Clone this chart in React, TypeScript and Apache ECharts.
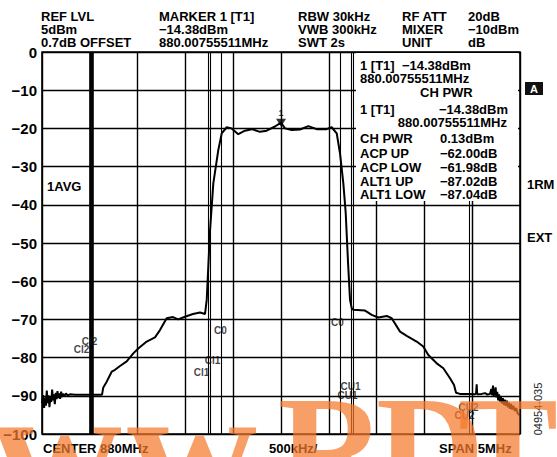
import React, { useEffect, useRef } from "react";
import * as echarts from "echarts";

// Trace: frequency (MHz) and level (dB)
const freqMHz = [877.500, 877.512, 877.522, 877.532, 877.541, 877.550, 877.560, 877.569, 877.578, 877.588, 877.597, 877.606, 877.616, 877.625, 877.634, 877.644, 877.653, 877.662, 877.672, 877.681, 877.690, 877.700, 877.710, 877.720, 877.735, 877.750, 877.770, 877.793, 877.845, 877.950, 878.054, 878.128, 878.141, 878.177, 878.229, 878.264, 878.316, 878.386, 878.455, 878.507, 878.595, 878.682, 878.734, 878.804, 878.870, 878.923, 878.996, 879.079, 879.153, 879.205, 879.223, 879.257, 879.292, 879.344, 879.380, 879.432, 879.484, 879.553, 879.623, 879.694, 879.780, 879.850, 879.937, 880.000, 880.042, 880.112, 880.199, 880.286, 880.373, 880.478, 880.530, 880.583, 880.617, 880.652, 880.677, 880.701, 880.722, 880.740, 880.756, 880.879, 880.949, 881.018, 881.106, 881.158, 881.245, 881.315, 881.419, 881.488, 881.541, 881.629, 881.698, 881.768, 881.810, 881.831, 881.872, 881.977, 882.029, 882.040, 882.047, 882.052, 882.100, 882.134, 882.160, 882.186, 882.200, 882.207, 882.218, 882.224, 882.235, 882.245, 882.252, 882.262, 882.272, 882.281, 882.291, 882.300, 882.310, 882.320, 882.331, 882.342, 882.352, 882.363, 882.373, 882.384, 882.395, 882.406, 882.417, 882.430, 882.445, 882.460, 882.475, 882.493];
const levelDb = [-92.0, -89.8, -93.2, -90.5, -92.6, -88.6, -91.9, -89.9, -93.0, -90.2, -91.6, -88.4, -91.2, -89.6, -92.2, -89.2, -90.9, -88.8, -90.6, -89.4, -90.8, -88.9, -90.3, -89.5, -90.1, -89.4, -89.9, -89.6, -89.7, -89.7, -89.7, -89.7, -87.8, -86.3, -83.7, -83.2, -82.2, -81, -78.9, -77.6, -75.8, -74.7, -72.8, -69.7, -69.4, -70, -69.3, -68.6, -68.2, -68.6, -64.9, -47, -34.4, -25.7, -21.3, -19.7, -20, -21.5, -20.6, -20.2, -20.9, -20.6, -19.5, -18.5, -20, -20.4, -20.3, -19.4, -20.2, -20.2, -19.7, -21.3, -26.5, -34.4, -42.2, -55, -64.9, -67.1, -67.5, -67.7, -68.8, -69.5, -69.1, -69.7, -73.2, -74.3, -75.8, -77.1, -79.3, -81.5, -82.8, -85.4, -87.2, -89.2, -89.5, -89.5, -89.6, -89.4, -87.0, -89.6, -89.5, -89.3, -89.7, -89.5, -88.2, -89.8, -87.3, -90.1, -89.2, -87.8, -90.4, -89.0, -91.2, -89.6, -91.5, -90.2, -92.0, -90.6, -92.4, -91.0, -92.6, -91.3, -93.0, -91.8, -93.4, -92.1, -93.6, -92.6, -94.0, -93.2, -94.6, -95.0];

// Channel limit lines (MHz)
const channelEdges = [878.005, 878.035, 879.235, 879.265, 879.385, 880.615, 880.735, 880.765, 881.965, 881.995];
const channelIsAlt = [true, true, false, false, false, false, false, false, false, false];
// Channel line labels and their anchor (MHz, dB)
const channelLabels = ["Cl2", "Cl2", "Cl1", "Cl1", "C0", "C0", "CU1", "CU1", "CU2", "CU2"];
const labelFreq = [878.002, 877.918, 879.289, 879.174, 879.372, 880.596, 880.732, 880.701, 881.967, 881.925];
const labelDb = [-75.9, -78.0, -80.9, -84.0, -73.0, -70.9, -87.7, -90.1, -93.2, -95.3];

// Marker 1
const markerFreq = [880.0];
const markerDb = [-18.5];

// Header columns
const headerCol1 = ["REF LVL", "5dBm", "0.7dB OFFSET"];
const headerCol2 = ["MARKER 1 [T1]", "\u221214.38dBm", "880.00755511MHz"];
const headerCol3 = ["RBW 30kHz", "VWB 300kHz", "SWT 2s"];
const headerCol4 = ["RF ATT", "MIXER", "UNIT"];
const headerCol5 = ["20dB", "\u221210dBm", "dB"];

// Result table
const resultNames = ["CH PWR", "ACP UP", "ACP LOW", "ALT1 UP", "ALT1 LOW"];
const resultValues = ["0.13dBm", "\u221262.00dB", "\u221261.98dB", "\u221287.02dB", "\u221287.04dB"];

const bottomLabels = ["CENTER 880MHz", "500kHz/", "SPAN 5MHz"];

// Watermark letters
const watermarkChars = ["w", "w", "R", "D", "T"];

export default function App() {
  const ref = useRef<HTMLDivElement>(null);
  useEffect(() => {
    if (!ref.current) return;
    const chart = echarts.init(ref.current, undefined, { renderer: "svg" });
    const F = "'Liberation Sans', Arial, sans-serif";
    const bold13 = `bold 13px ${F}`;
    const txt = (text: string, x: number, y: number, extra: any = {}) => ({
      type: "text",
      x,
      y,
      z: 200,
      style: { text, font: bold13, fill: "#000", verticalAlign: "middle", align: "left", ...extra },
    });
    const headerX = [41, 159, 298, 402, 468];
    const headerY = [16, 29, 42];
    const headers = [headerCol1, headerCol2, headerCol3, headerCol4, headerCol5];
    const graphics: any[] = [];
    headers.forEach((col, ci) => col.forEach((t, ri) => graphics.push(txt(t, headerX[ci], headerY[ri]))));
    // result box
    graphics.push({ type: "rect", z: 150, shape: { x: 356, y: 53, width: 162, height: 148 }, style: { fill: "#fff" } });
    graphics.push(txt("1 [T1]  \u221214.38dBm", 360, 65.5));
    graphics.push(txt("880.00755511MHz", 360, 78.5));
    graphics.push(txt("CH PWR", 420, 92.5));
    graphics.push(txt("1 [T1]", 360, 109.5));
    graphics.push(txt("\u221214.38dBm", 508, 109.5, { align: "right" }));
    graphics.push(txt("880.00755511MHz", 507, 122.5, { align: "right" }));
    const rowY = [138.3, 153, 167.2, 181, 194.5];
    resultNames.forEach((n, i) => {
      graphics.push(txt(n, 360, rowY[i]));
      graphics.push(txt(resultValues[i], 440, rowY[i]));
    });
    // right side
    graphics.push({ type: "rect", z: 200, shape: { x: 525, y: 82, width: 18, height: 13 }, style: { fill: "#111" } });
    graphics.push(txt("A", 534, 88.5, { fill: "#fff", align: "center", font: `bold 11px ${F}` }));
    graphics.push(txt("1RM", 527, 184));
    graphics.push(txt("EXT", 527, 237));
    graphics.push(txt("1AVG", 47, 186.5));
    // bottom
    graphics.push(txt(bottomLabels[0], 43, 448.5));
    graphics.push(txt(bottomLabels[1], 269, 448.5));
    graphics.push(txt(bottomLabels[2], 439, 448.5));
    graphics.push({
      type: "text",
      x: 538,
      y: 409,
      rotation: Math.PI / 2,
      z: 200,
      style: { text: "04954-035", font: `11px ${F}`, fill: "#222", align: "center", verticalAlign: "middle" },
    });
    // watermark (per letter)
    const wmX = [-8, 127, 278, 376, 458];
    const wmY = [539, 539, 524, 524, 524];
    const wmSize = [180, 180, 150, 150, 150];
    watermarkChars.forEach((c, i) => {
      graphics.push({
        type: "text",
        x: wmX[i],
        y: wmY[i],
        z: 300,
        silent: true,
        style: { text: c, font: `bold ${wmSize[i]}px 'Liberation Serif', serif`, fill: "rgba(245,120,45,0.72)", verticalAlign: "bottom", align: "left" },
      });
    });

    chart.setOption({
      animation: false,
      backgroundColor: "#fff",
      grid: { left: 42, right: 37, top: 52, bottom: 23, show: true, borderColor: "#000", borderWidth: 1.6, backgroundColor: "transparent" },
      xAxis: {
        type: "value",
        min: 877.5,
        max: 882.5,
        interval: 0.5,
        axisLine: { show: false },
        axisTick: { show: false },
        axisLabel: { show: false },
        splitLine: { show: true, lineStyle: { color: "#000", width: 1.4 } },
      },
      yAxis: {
        type: "value",
        min: -100,
        max: 0,
        interval: 10,
        axisLine: { show: false },
        axisTick: { show: false },
        axisLabel: {
          margin: 5,
          color: "#000",
          fontFamily: F,
          fontWeight: "bold",
          fontSize: 15,
          formatter: (v: number) => (v === 0 ? "0" : "\u2212" + Math.abs(v)),
        },
        splitLine: { show: true, lineStyle: { color: "#000", width: 1.4 } },
      },
      graphic: graphics,
      series: [
        {
          type: "line",
          data: freqMHz.map((f, i) => [f, levelDb[i]]),
          symbol: "none",
          lineStyle: { color: "#000", width: 2 },
          z: 5,
          markLine: {
            silent: true,
            symbol: ["none", "none"],
            label: { show: false },
            data: channelEdges.map((f, i) => ({
              xAxis: f,
              lineStyle: { color: "#000", width: channelIsAlt[i] ? 2.6 : 1.1, type: "solid" },
            })),
          },
        },
        {
          type: "scatter",
          data: labelFreq.map((f, i) => [f, labelDb[i]]),
          symbolSize: 1,
          itemStyle: { color: "rgba(0,0,0,0)" },
          z: 6,
          label: {
            show: true,
            position: [0, 0],
            align: "center",
            verticalAlign: "middle",
            formatter: (p: any) => channelLabels[p.dataIndex],
            color: "#111",
            fontFamily: F,
            fontWeight: "bold",
            fontSize: 10,
          },
        },
        {
          type: "scatter",
          data: markerFreq.map((f, i) => [f, markerDb[i]]),
          symbol: "triangle",
          symbolRotate: 180,
          symbolSize: [10, 8],
          itemStyle: { color: "#000" },
          z: 7,
          label: { show: true, position: "top", distance: 1, formatter: "1", color: "#000", fontFamily: F, fontSize: 9, fontWeight: "bold" },
        },
      ],
    });
    return () => chart.dispose();
  }, []);
  return <div ref={ref} style={{ position: "fixed", left: 0, top: 0, width: 557, height: 457 }} />;
}
